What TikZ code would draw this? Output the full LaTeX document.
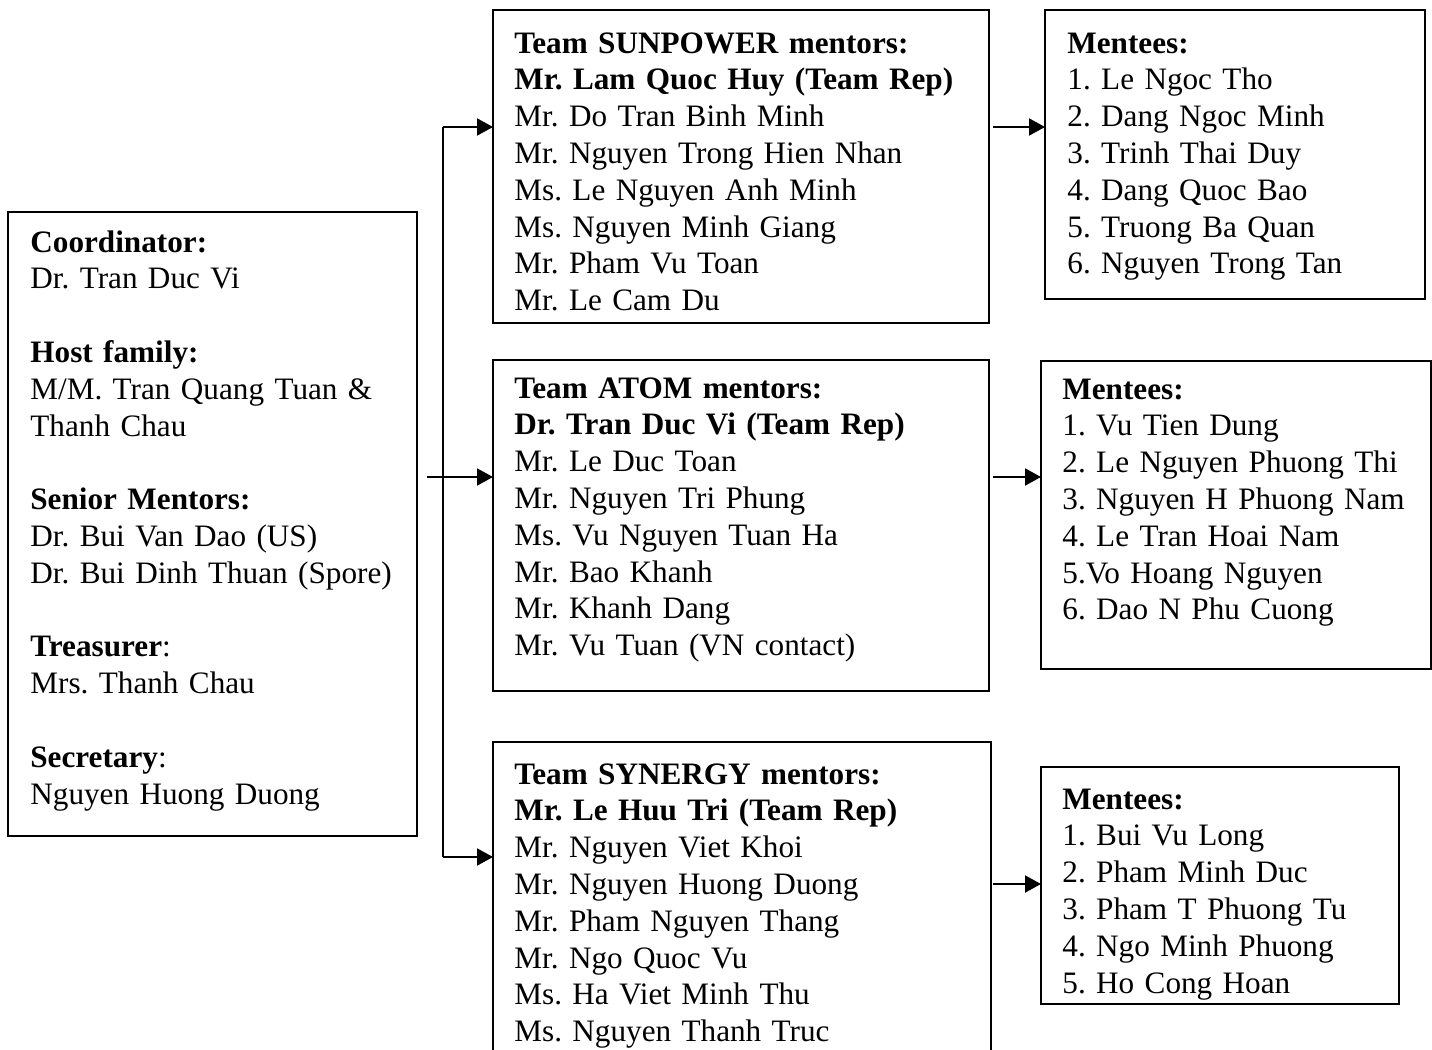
\documentclass[tikz,border=0pt]{standalone}
\usepackage{fontspec}
\setmainfont{Liberation Serif}
\usetikzlibrary{arrows.meta}
\frenchspacing

\tikzset{
    box/.style={draw, line width=1pt, inner sep=0pt, outer sep=0pt, anchor=north west},
    txt/.style={inner sep=0pt, anchor=north west, align=left, text width=250pt,
        font=\fontsize{15.6}{18.4}\selectfont},
    arr/.style={line width=1pt, -{Triangle[length=8pt,width=8.5pt]}},
    trunk/.style={line width=1pt}
}

\begin{document}
\begin{tikzpicture}[x=0.5pt, y=-0.5pt]
    \useasboundingbox (0,0) rectangle (1432,1050);
    \fill[white] (0,0) rectangle (1432,1050);
    \clip (0,0) rectangle (1432,1050);

    \node[box, minimum width=204.5pt, minimum height=312pt] (board) at (8,212) {};
    \node[box, minimum width=248pt, minimum height=156.5pt] (sunpower) at (493,10) {};
    \node[box, minimum width=190pt, minimum height=144.5pt] (sunmentees) at (1045,10) {};
    \node[box, minimum width=248pt, minimum height=165.5pt] (atom) at (493,360) {};
    \node[box, minimum width=195pt, minimum height=154pt] (atommentees) at (1041,361) {};
    \node[box, minimum width=249pt, minimum height=159pt] (synergy) at (493,742) {};
    \node[box, minimum width=179pt, minimum height=118.5pt] (synmentees) at (1041,767) {};

    \node[txt] (boardtxt) at (30,226) {\strut\textbf{Coordinator:}\\ Dr. Tran Duc Vi\\[18.4pt]
        \textbf{Host family:}\\ M/M. Tran Quang Tuan \&\\ Thanh Chau\\[18.4pt]
        \textbf{Senior Mentors:}\\ Dr. Bui Van Dao (US)\\ Dr. Bui Dinh Thuan (Spore)\\[18.4pt]
        \textbf{Treasurer}:\\ Mrs. Thanh Chau\\[18.4pt]
        \textbf{Secretary}:\\ Nguyen Huong Duong};

    \node[txt] (suntxt) at (514,27) {\strut\textbf{Team SUNPOWER mentors:}\\
        \textbf{Mr. Lam Quoc Huy (Team Rep)}\\ Mr. Do Tran Binh Minh\\
        Mr. Nguyen Trong Hien Nhan\\ Ms. Le Nguyen Anh Minh\\ Ms. Nguyen Minh Giang\\
        Mr. Pham Vu Toan\\ Mr. Le Cam Du};
    \node[txt] (sunmtxt) at (1067,27) {\strut\textbf{Mentees:}\\ 1. Le Ngoc Tho\\
        2. Dang Ngoc Minh\\ 3. Trinh Thai Duy\\ 4. Dang Quoc Bao\\
        5. Truong Ba Quan\\ 6. Nguyen Trong Tan};

    \node[txt] (atomtxt) at (514,372) {\strut\textbf{Team ATOM mentors:}\\
        \textbf{Dr. Tran Duc Vi (Team Rep)}\\ Mr. Le Duc Toan\\ Mr. Nguyen Tri Phung\\
        Ms. Vu Nguyen Tuan Ha\\ Mr. Bao Khanh\\ Mr. Khanh Dang\\ Mr. Vu Tuan (VN contact)};
    \node[txt] (atommtxt) at (1062,373) {\strut\textbf{Mentees:}\\ 1. Vu Tien Dung\\
        2. Le Nguyen Phuong Thi\\ 3. Nguyen H Phuong Nam\\ 4. Le Tran Hoai Nam\\
        5.Vo Hoang Nguyen\\ 6. Dao N Phu Cuong};

    \node[txt] (syntxt) at (514,758) {\strut\textbf{Team SYNERGY mentors:}\\
        \textbf{Mr. Le Huu Tri (Team Rep)}\\ Mr. Nguyen Viet Khoi\\ Mr. Nguyen Huong Duong\\
        Mr. Pham Nguyen Thang\\ Mr. Ngo Quoc Vu\\ Ms. Ha Viet Minh Thu\\
        Ms. Nguyen Thanh Truc};
    \node[txt] (synmtxt) at (1062,783) {\strut\textbf{Mentees:}\\ 1. Bui Vu Long\\
        2. Pham Minh Duc\\ 3. Pham T Phuong Tu\\ 4. Ngo Minh Phuong\\ 5. Ho Cong Hoan};

    \coordinate (jtop) at (443,127);
    \coordinate (jmid) at (427,477);
    \coordinate (jbot) at (443,857);
    \draw[trunk] (jtop) -- (jbot);
    \draw[arr] (jtop) -- (jtop -| sunpower.west);
    \draw[arr] (jmid) -- (jmid -| atom.west);
    \draw[arr] (jbot) -- (jbot -| synergy.west);

    \coordinate (sunout) at (993,127);
    \coordinate (atomout) at (993,477);
    \coordinate (synout) at (993,884);
    \draw[arr] (sunout) -- (sunout -| sunmentees.west);
    \draw[arr] (atomout) -- (atomout -| atommentees.west);
    \draw[arr] (synout) -- (synout -| synmentees.west);
\end{tikzpicture}
\end{document}
